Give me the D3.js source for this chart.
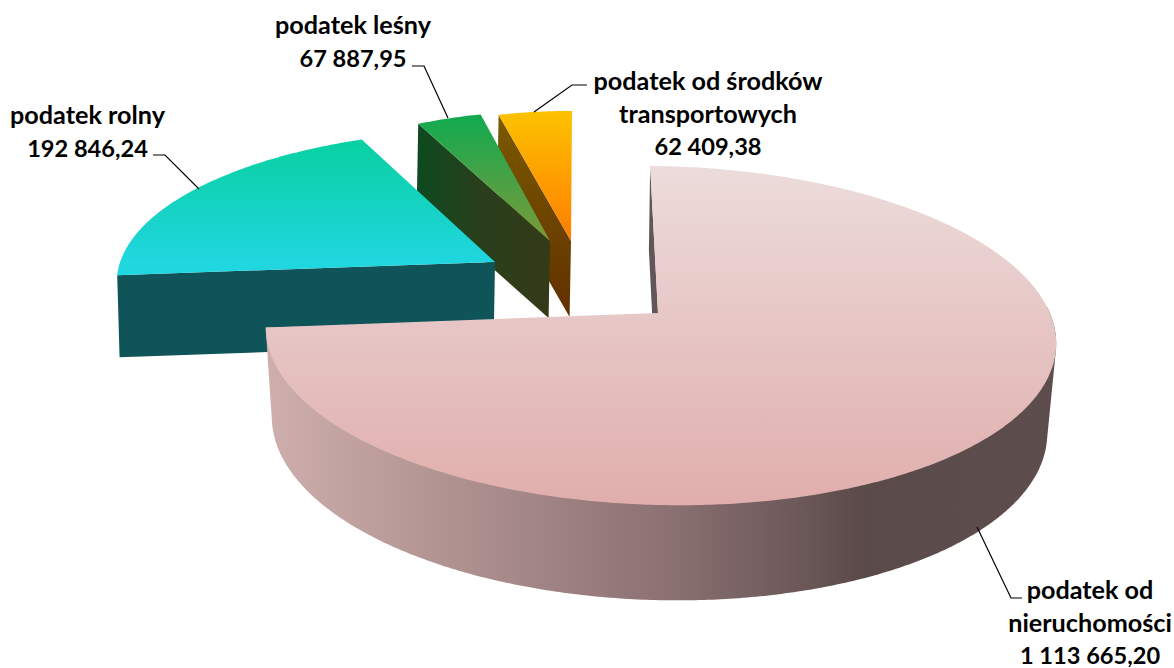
<!DOCTYPE html>
<html>
<head>
<meta charset="utf-8">
<script src="https://cdn.jsdelivr.net/npm/d3@7"></script>
<style>
  html, body { margin: 0; background: #fff; }
  svg { display: block; }
  text { font-family: Lato, sans-serif; font-weight: 700; font-size: 25.2px; fill: #000; }
  text.amount { font-size: 23.6px; }
</style>
</head>
<body>
<div id="chart"></div>
<script>
/* Exploded 3D pie: podatki */

const names = [
  ["podatek od", "nieruchomości"],
  ["podatek rolny"],
  ["podatek leśny"],
  ["podatek od środków", "transportowych"],
];
const values = [1113665.2, 192846.24, 67887.95, 62409.38];
// wedge widths in degrees (they do not follow the labelled amounts)
const drawnDegrees = [264.2, 71.5, 13.2, 15.3];

const width = 1174,
  height = 668;

const svg = d3.select("#chart").append("svg").attr("width", width).attr("height", height);
const defs = svg.append("defs");

const pl = d3.formatLocale({ decimal: ",", thousands: " ", grouping: [3], currency: ["", ""] });
const fmt = pl.format(",.2f");

// perspective of the disc, fitted on the big slice
const A = 166.5,
  B = -0.1327,
  Rx = 391.7;

// one entry per slice, same order as the data
const geometry = [
  { apex: [658, 313], shift: 3, shear: 0.02, kx: 1, ky: 1, depth: 89, sx: 0.981, sy: 1.032, rot: 0 },
  { apex: [495, 262], shift: 0, shear: 0, kx: 0.957, ky: 0.9, depth: 82, sx: 0.99, sy: 1, rot: 2.6 },
  { apex: [550, 241], shift: 0, shear: 0, kx: 0.82, ky: 0.885, depth: 77, sx: 1, sy: 1, rot: -1.2 },
  { apex: [571, 241], shift: 0, shear: 0, kx: 0.8, ky: 0.885, depth: 76, sx: 1, sy: 1, rot: -2.2 },
];

const rad = Math.PI / 180;

// the measured widths add up to a bit over a full turn, d3.pie clamps to one turn
const stretch = d3.sum(drawnDegrees) / 360,
  startAngle = -1.8 * rad;

const arcs = d3
  .pie()
  .sort(null)(drawnDegrees)
  .map((d) => ({
    startAngle: startAngle + d.startAngle * stretch,
    endAngle: startAngle + d.endAngle * stretch,
  }));

function offset(g, a) {
  let u = Math.sin(a),
    v = -Math.cos(a),
    den = 1 + B * v,
    x = (g.kx * Rx * u) / den + g.shift;
  return [x, (g.ky * A * v) / den + g.shear * x];
}
const top3d = (g, a) => {
  let o = offset(g, a);
  return [g.apex[0] + o[0], g.apex[1] + o[1]];
};
const bottom3d = (g, a) => {
  let o = offset(g, a);
  return [g.apex[0] + g.sx * o[0] - 1.4, g.apex[1] + g.depth + g.sy * o[1]];
};
const apexBottom = (g) => [g.apex[0] - 1.4, g.apex[1] + g.depth];

const line = d3.line();

function angles(a0, a1) {
  let n = Math.ceil(Math.abs(a1 - a0) / 0.01);
  return d3.range(n + 1).map((i) => a0 + ((a1 - a0) * i) / n);
}

function gradient(id, horizontal, stops) {
  let g = defs
    .append("linearGradient")
    .attr("id", id)
    .attr("gradientUnits", "userSpaceOnUse")
    .attr("x1", 0)
    .attr("y1", 0)
    .attr("x2", horizontal ? width : 0)
    .attr("y2", horizontal ? 0 : height);
  stops.forEach((s) =>
    g
      .append("stop")
      .attr("offset", s[0] / (horizontal ? width : height))
      .attr("stop-color", s[1])
  );
}

gradient("topBig", false, [[166, "#ecdcdb"], [505, "#e0aeac"]]);
gradient("rimBig", true, [
  [272, "#cdaeac"],
  [450, "#b09291"],
  [650, "#8f7475"],
  [800, "#6c5859"],
  [860, "#5b4a4a"],
  [1050, "#5e4d4d"],
]);
gradient("topRolny", false, [[138, "#08d0a0"], [262, "#20d6df"]]);
gradient("topLesny", false, [[114, "#10aa50"], [240, "#7c9a3a"]]);
gradient("sideLesny", true, [[418, "#0e4a20"], [480, "#2a3f1c"], [550, "#333a18"]]);
gradient("topTrans", false, [[111, "#fcc200"], [240, "#ff7d00"]]);
gradient("sideTrans", false, [[115, "#7a5a00"], [316, "#623000"]]);

const fills = [
  { top: "url(#topBig)", side: "#625658", rim: "url(#rimBig)" },
  { top: "url(#topRolny)", side: "#0f5458" },
  { top: "url(#topLesny)", side: "url(#sideLesny)" },
  { top: "url(#topTrans)", side: "url(#sideTrans)" },
];

// back slices first, the big one covers everything behind it
[3, 2, 1, 0].forEach((i) => {
  let g = geometry[i],
    a0 = arcs[i].startAngle + g.rot * rad,
    a1 = arcs[i].endAngle + g.rot * rad,
    layer = svg.append("g");

  if (i === 0) {
    // rim of the big slice: hull of both edges, the top face hides the inner part
    let front = angles(85 * rad, a1);
    let hull = d3.polygonHull([...front.map((a) => top3d(g, a)), ...front.map((a) => bottom3d(g, a))]);
    layer
      .append("path")
      .attr("d", line(hull) + "Z")
      .attr("fill", fills[i].rim);
  }

  // wall on the left of the wedge
  layer
    .append("path")
    .attr("d", line([top3d(g, a0), g.apex, apexBottom(g), bottom3d(g, a0)]) + "Z")
    .attr("fill", fills[i].side);

  layer
    .append("path")
    .attr("d", line([g.apex, ...angles(a0, a1).map((a) => top3d(g, a))]) + "Z")
    .attr("fill", fills[i].top);
});

// leader lines
const leaders = [
  [[977, 527], [1011, 598], [1022, 598]],
  [[153, 155], [165, 155], [199, 189]],
  [[412, 66], [424, 66], [448, 118]],
  [[534, 112], [572, 85], [587, 85]],
];
leaders.forEach((p) =>
  svg.append("path").attr("d", line(p)).attr("fill", "none").attr("stroke", "#000").attr("stroke-width", 1.2)
);

// labels
const labelPos = [
  { x: 1090, y: 599 },
  { x: 87.5, y: 124 },
  { x: 353, y: 34 },
  { x: 708, y: 90 },
];
const lineStep = 32.5;
labelPos.forEach((p, i) => {
  let rows = [...names[i], fmt(values[i])];
  svg
    .selectAll(null)
    .data(rows)
    .join("text")
    .attr("class", (d, j) => (j === rows.length - 1 ? "amount" : null))
    .attr("text-anchor", "middle")
    .attr("x", p.x)
    .attr("y", (d, j) => p.y + j * lineStep)
    .text((d) => d);
});
</script>
</body>
</html>
